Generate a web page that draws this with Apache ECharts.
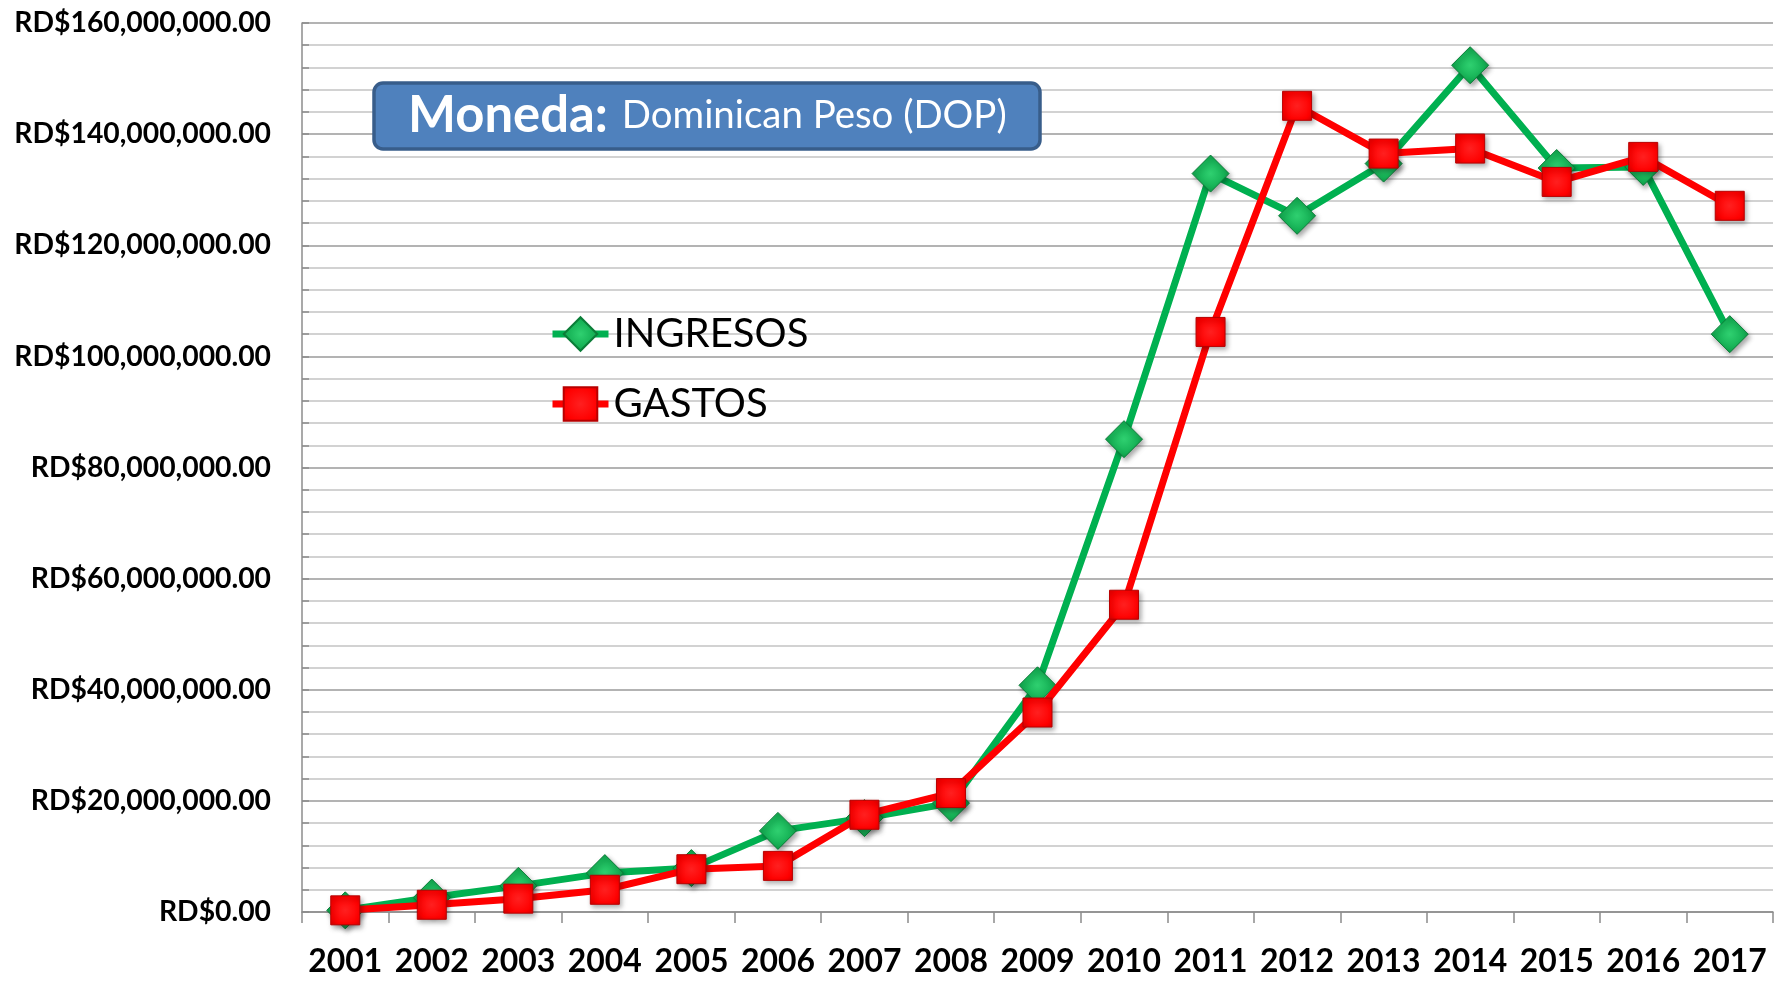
<!DOCTYPE html>
<html>
<head>
<meta charset="utf-8">
<title>Ingresos y Gastos 2001-2017</title>
<script src="https://cdn.jsdelivr.net/npm/echarts@6/dist/echarts.min.js"></script>
<style>
  html, body { margin: 0; padding: 0; background: #ffffff; }
  #chart { width: 1787px; height: 987px; }
</style>
</head>
<body>
<div id="chart"></div>
<script>
// Years on the category axis
const years = ['2001', '2002', '2003', '2004', '2005', '2006', '2007', '2008', '2009',
               '2010', '2011', '2012', '2013', '2014', '2015', '2016', '2017'];

// Annual income (RD$)
const ingresos = [300000, 2600000, 4700000, 7000000, 7900000, 14600000, 16900000, 19600000,
                  40800000, 85100000, 132900000, 125300000, 134700000, 152400000, 133900000,
                  134100000, 104000000];

// Annual expenses (RD$)
const gastos = [300000, 1300000, 2400000, 4000000, 7700000, 8300000, 17500000, 21400000,
                35900000, 55300000, 104400000, 145100000, 136500000, 137400000, 131400000,
                135900000, 127100000];

// Value axis range
const yMin = 0;
const yMax = 160000000;
const yStep = 20000000;

const seriesNames = ['INGRESOS', 'GASTOS'];
const titleBold = 'Moneda:';
const titleRest = 'Dominican Peso (DOP)';

const FONT = "Lato, 'Liberation Sans', Arial, sans-serif";

function money(v) {
  const s = Math.round(v).toString().replace(/\B(?=(\d{3})+(?!\d))/g, ',');
  return 'RD$' + s + '.00';
}

// Font size that makes a string take up the given width
const measureCtx = document.createElement('canvas').getContext('2d');
function fitSize(text, weight, width) {
  measureCtx.font = weight + ' 100px ' + FONT;
  return Math.round(100 * width / measureCtx.measureText(text).width * 10) / 10;
}

const yLabelSize = fitSize(money(yMax), 'bold', 257);
const xLabelSize = fitSize(years[0], 'bold', 74);
const legendSize = fitSize(seriesNames[0], 'normal', 195);
const titleBoldSize = fitSize(titleBold, 'bold', 200);
const titleRestSize = fitSize(titleRest, 'normal', 385);

const markerShadow = {
  shadowColor: 'rgba(0,0,0,0.35)',
  shadowBlur: 5,
  shadowOffsetX: 2,
  shadowOffsetY: 3
};

const legendItemHeight = 42;
const legendRowHeight = Math.max(legendItemHeight, legendSize);

const chart = echarts.init(document.getElementById('chart'), null, { renderer: 'canvas' });

chart.setOption({
  backgroundColor: '#ffffff',
  animation: false,
  title: {
    left: 374,
    top: 79,
    padding: [8, 34, 8, 34],
    backgroundColor: '#4f81bd',
    borderColor: '#385d8a',
    borderWidth: 3.5,
    borderRadius: 9,
    text: '{b|' + titleBold + '}{r|' + titleRest + '}',
    textStyle: {
      rich: {
        b: { fontFamily: FONT, fontWeight: 'bold', fontSize: titleBoldSize, color: '#ffffff', lineHeight: 58 },
        r: { fontFamily: FONT, fontWeight: 'normal', fontSize: titleRestSize, color: '#ffffff', lineHeight: 58,
             padding: [0, 0, 0, 14] }
      }
    }
  },
  legend: {
    orient: 'vertical',
    left: 549,
    top: 335 - legendRowHeight / 2,
    padding: 0,
    itemWidth: 56,
    itemHeight: legendItemHeight,
    itemGap: 72 - legendRowHeight,
    lineStyle: { width: 7 },
    textStyle: { fontFamily: FONT, fontSize: legendSize, color: '#000000', padding: [0, 0, 0, 0] },
    data: seriesNames
  },
  grid: {
    left: 302,
    right: 14,
    top: 23,
    bottom: 75,
    containLabel: false
  },
  xAxis: {
    type: 'category',
    data: years,
    boundaryGap: true,
    axisLine: { lineStyle: { color: '#8c8c8c', width: 1.5 } },
    axisTick: { show: true, inside: false, length: 11, alignWithLabel: false,
                lineStyle: { color: '#8c8c8c', width: 1.5 } },
    axisLabel: {
      interval: 0,
      margin: 50 - xLabelSize / 2,
      fontFamily: FONT,
      fontWeight: 'bold',
      fontSize: xLabelSize,
      color: '#000000'
    },
    splitLine: { show: false }
  },
  yAxis: {
    type: 'value',
    min: yMin,
    max: yMax,
    interval: yStep,
    axisLine: { show: true, lineStyle: { color: '#8c8c8c', width: 1.5 } },
    axisTick: { show: true, inside: true, length: 7, lineStyle: { color: '#8c8c8c', width: 1.5 } },
    minorTick: { show: true, splitNumber: 5, length: 7, lineStyle: { color: '#8c8c8c', width: 1.5 } },
    axisLabel: {
      margin: 31,
      fontFamily: FONT,
      fontWeight: 'bold',
      fontSize: yLabelSize,
      color: '#000000',
      formatter: money
    },
    splitLine: { show: true, lineStyle: { color: '#9a9a9a', width: 1.5 } },
    minorSplitLine: { show: true, lineStyle: { color: '#c4c4c4', width: 1.5 } }
  },
  series: [
    {
      name: seriesNames[0],
      type: 'line',
      data: ingresos,
      symbol: 'diamond',
      symbolSize: 37,
      lineStyle: { color: '#00b050', width: 7 },
      itemStyle: Object.assign({
        color: {
          type: 'radial', x: 0.5, y: 0.5, r: 0.6,
          colorStops: [
            { offset: 0, color: '#2fd070' },
            { offset: 0.6, color: '#16b256' },
            { offset: 1, color: '#0a8c3e' }
          ]
        },
        borderColor: '#0b7d38',
        borderWidth: 1
      }, markerShadow),
      z: 2
    },
    {
      name: seriesNames[1],
      type: 'line',
      data: gastos,
      symbol: 'rect',
      symbolSize: 29,
      lineStyle: { color: '#ff0000', width: 7 },
      itemStyle: Object.assign({
        color: {
          type: 'radial', x: 0.5, y: 0.5, r: 0.7,
          colorStops: [
            { offset: 0, color: '#ff2020' },
            { offset: 0.7, color: '#ff0000' },
            { offset: 1, color: '#d80000' }
          ]
        },
        borderColor: '#b80000',
        borderWidth: 1
      }, markerShadow),
      z: 3
    }
  ]
});
</script>
</body>
</html>
